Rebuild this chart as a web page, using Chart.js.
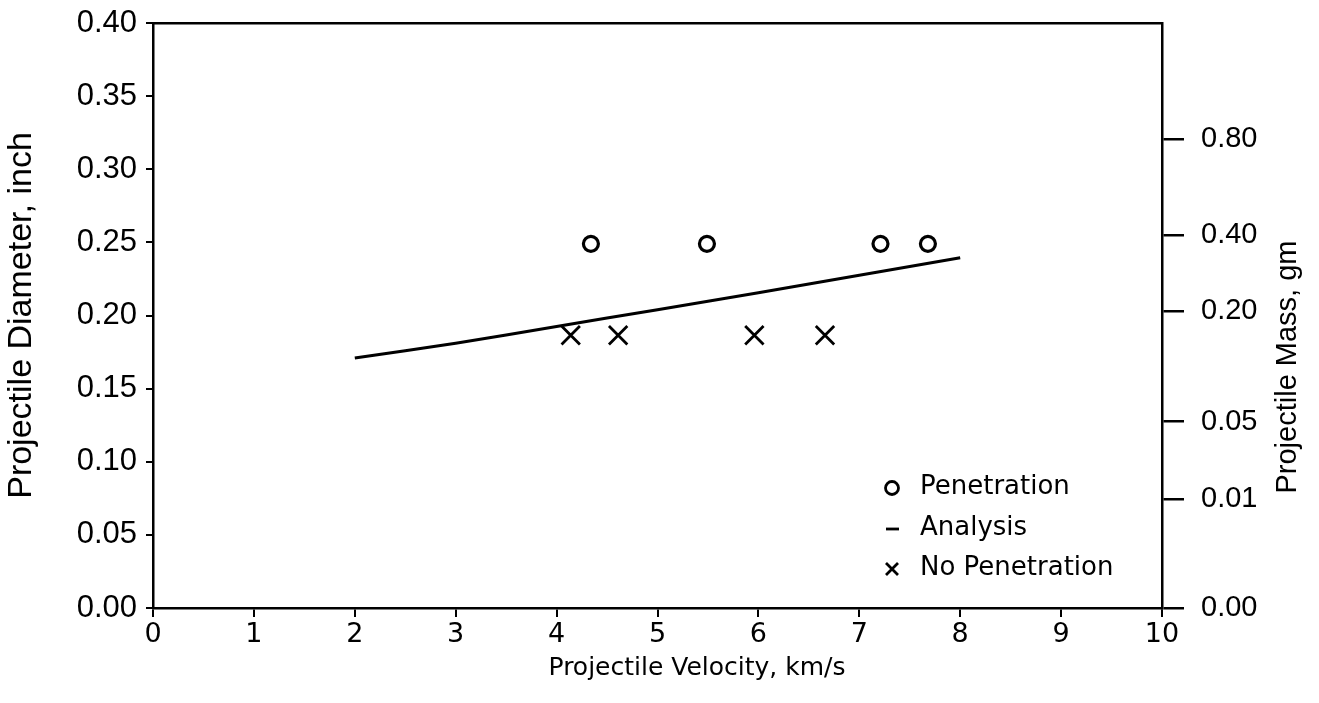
<!DOCTYPE html>
<html>
<head>
<meta charset="utf-8">
<script src="https://cdn.jsdelivr.net/npm/chart.js@4.4.1/dist/chart.umd.min.js"></script>
<style>
html,body{margin:0;padding:0;background:#fff;}
#wrap{width:1319px;height:703px;position:relative;}
</style>
</head>
<body>
<div id="wrap"><canvas id="c" width="1319" height="703"></canvas></div>
<script>
// ---- data ----
const penetrationVelocity = [4.34, 5.49, 7.21, 7.68];
const penetrationDiameter = [0.249, 0.249, 0.249, 0.249];
const noPenetrationVelocity = [4.14, 4.61, 5.96, 6.66];
const noPenetrationDiameter = [0.1865, 0.1865, 0.1865, 0.1865];
const analysisVelocity = [2, 3, 4, 5, 6, 7, 8];
const analysisDiameter = [0.171, 0.181, 0.1925, 0.204, 0.2155, 0.2275, 0.2395];
const massTickLabels = ['0.00', '0.01', '0.05', '0.20', '0.40', '0.80'];
const massTickDiameters = [0, 0.0745, 0.1275, 0.2028, 0.2552, 0.3205];
const seriesNames = ['Penetration', 'Analysis', 'No Penetration'];
const xTitle = 'Projectile Velocity, km/s';
const yTitle = 'Projectile Diameter, inch';
const y2Title = 'Projectile Mass, gm';

const toXY = (xs, ys) => xs.map((x, i) => ({x: x, y: ys[i]}));

const extraText = {
  id: 'extraText',
  afterDraw(chart) {
    const ctx = chart.ctx;
    ctx.save();
    ctx.fillStyle = '#000';
    ctx.strokeStyle = '#000';
    // x title
    ctx.font = '25px "DejaVu Sans"';
    ctx.textAlign = 'center';
    ctx.textBaseline = 'alphabetic';
    ctx.fillText(xTitle, 697, 675);
    // right title (reads bottom to top)
    ctx.save();
    ctx.translate(1296, 367);
    ctx.rotate(-Math.PI / 2);
    ctx.font = '29px "Liberation Sans"';
    ctx.textAlign = 'center';
    ctx.textBaseline = 'alphabetic';
    ctx.fillText(y2Title, 0, 0);
    ctx.restore();
    // legend
    const rows = [487, 528, 568];
    const sx = 892, tx = 920;
    ctx.font = '26px "DejaVu Sans"';
    ctx.textAlign = 'left';
    ctx.textBaseline = 'middle';
    ctx.lineWidth = 2.8;
    ctx.beginPath();
    ctx.arc(sx, rows[0] + 1, 6.5, 0, Math.PI * 2);
    ctx.stroke();
    ctx.beginPath();
    ctx.moveTo(sx - 6, rows[1] + 1);
    ctx.lineTo(sx + 7, rows[1] + 1);
    ctx.stroke();
    ctx.beginPath();
    ctx.moveTo(sx - 6, rows[2] - 5); ctx.lineTo(sx + 6, rows[2] + 7);
    ctx.moveTo(sx + 6, rows[2] - 5); ctx.lineTo(sx - 6, rows[2] + 7);
    ctx.stroke();
    seriesNames.forEach((n, i) => ctx.fillText(n, tx, rows[i]));
    ctx.restore();
  }
};

new Chart(document.getElementById('c'), {
  type: 'scatter',
  data: {
    datasets: [
      {
        label: seriesNames[0],
        data: toXY(penetrationVelocity, penetrationDiameter),
        pointStyle: 'circle', pointRadius: 7.5, pointBorderWidth: 3.2,
        pointBackgroundColor: 'rgba(0,0,0,0)', pointBorderColor: '#000',
        showLine: false
      },
      {
        label: seriesNames[1],
        data: toXY(analysisVelocity, analysisDiameter),
        showLine: true, borderColor: '#000', borderWidth: 3,
        pointRadius: 0, tension: 0.2, fill: false
      },
      {
        label: seriesNames[2],
        data: toXY(noPenetrationVelocity, noPenetrationDiameter),
        pointStyle: 'crossRot', pointRadius: 13, pointBorderWidth: 2.8,
        pointBorderColor: '#000', showLine: false
      }
    ]
  },
  options: {
    responsive: false,
    animation: false,
    layout: {padding: 0, autoPadding: false},
    plugins: {legend: {display: false}, tooltip: {enabled: false}},
    scales: {
      x: {
        type: 'linear', position: 'bottom', min: 0, max: 10,
        ticks: {stepSize: 1, color: '#000', font: {family: 'DejaVu Sans', size: 27}, padding: 2, maxRotation: 0},
        grid: {drawOnChartArea: false, tickLength: 9, color: '#000', lineWidth: 2},
        border: {color: '#000', width: 2.5},
        afterFit(s) { s.height = 95; }
      },
      xTop: {
        type: 'linear', position: 'top', min: 0, max: 10,
        ticks: {display: false},
        grid: {display: false, drawTicks: false},
        border: {display: true, color: '#000', width: 2.5},
        afterFit(s) { s.height = 23; }
      },
      y: {
        type: 'linear', position: 'left', min: 0, max: 0.4,
        ticks: {stepSize: 0.05, color: '#000', font: {family: 'Liberation Sans', size: 31, lineHeight: 1.2}, padding: 9,
          callback: v => Number(v).toFixed(2)},
        grid: {drawOnChartArea: false, tickLength: 7, color: '#000', lineWidth: 2},
        border: {color: '#000', width: 2.5},
        title: {display: true, text: yTitle, color: '#000', font: {family: 'Liberation Sans', size: 34}, padding: {top: 1, bottom: 0}},
        afterFit(s) { s.width = 153; s.paddingTop = 0; s.paddingBottom = 0; }
      },
      y2: {
        type: 'linear', position: 'right', min: 0, max: 0.4,
        afterBuildTicks(s) { s.ticks = massTickDiameters.map(v => ({value: v})); },
        ticks: {autoSkip: false, color: '#000', font: {family: 'Liberation Sans', size: 29, lineHeight: 1.2}, padding: 17,
          callback: (v, i) => massTickLabels[i]},
        grid: {drawOnChartArea: false, tickLength: 22, color: '#000', lineWidth: 2.5},
        border: {color: '#000', width: 2.5},
        afterFit(s) { s.width = 157; s.paddingTop = 0; s.paddingBottom = 0; }
      }
    }
  },
  plugins: [extraText]
});
</script>
</body>
</html>
